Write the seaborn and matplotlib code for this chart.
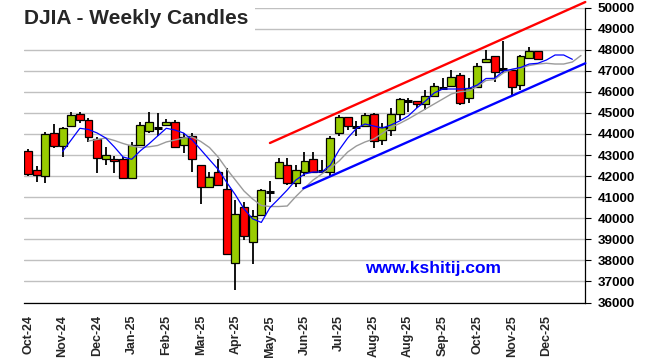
import numpy as np
import pandas as pd
import matplotlib
matplotlib.use("Agg")
import matplotlib.pyplot as plt
import seaborn as sns
from matplotlib.patches import Rectangle

# ---------------- data ----------------
opens = [43203, 42287, 41990, 44028, 43427, 44376, 44930, 44661, 43745, 42796,
         42825, 42825, 41894, 43460, 44139, 44296, 44424, 44552, 43475, 43902,
         42525, 41467, 42193, 41372, 37860, 40517, 38885, 40152, 41230, 41894,
         42511, 41657, 42207, 42796, 42240, 42207, 44030, 44789, 44343, 44376,
         44931, 43712, 44186, 44946, 45577, 45562, 45420, 45814, 46194, 46289,
         46796, 45691, 46241, 47399, 47698, 47067, 47034, 46322, 47589, 47950]
highs = [43284, 42478, 44107, 44471, 44343, 45055, 45055, 44741, 43868, 43394,
         42953, 42921, 43617, 44552, 45026, 44979, 44709, 44661, 44030, 44030,
         42525, 42207, 42796, 42368, 40864, 40783, 40390, 41400, 41766, 42843,
         42843, 42525, 43156, 43156, 42763, 43902, 44898, 44789, 44628, 45007,
         44979, 44504, 45216, 45691, 45705, 45562, 46085, 46431, 46640, 47034,
         46877, 46640, 47352, 47983, 47698, 48410, 47034, 47746, 48140, 47950]
lows = [42003, 41718, 41657, 43318, 42921, 44376, 44534, 43617, 42160, 42525,
        42160, 41846, 41846, 43427, 44030, 43902, 44424, 43394, 43080, 42207,
        40674, 41419, 41576, 38254, 36593, 38966, 37827, 40100, 40783, 41850,
        41576, 41467, 42003, 42131, 42207, 42003, 43902, 44186, 43902, 44376,
        43318, 43475, 43902, 44661, 45055, 45216, 45136, 45767, 46165, 46241,
        45373, 45453, 46241, 47399, 46478, 46877, 45847, 46085, 47589, 47542]
closes = [42098, 42051, 43997, 43427, 44265, 44884, 44661, 43840, 42843, 42986,
          42701, 41923, 43460, 44409, 44552, 44296, 44552, 43394, 43868, 42796,
          41467, 41970, 41576, 38287, 40185, 39155, 40090, 41339, 41230, 42653,
          41657, 42288, 42730, 42207, 42240, 43792, 44817, 44376, 44343, 44898,
          43678, 44314, 44946, 45643, 45577, 45420, 45814, 46289, 46194, 46716,
          45453, 46165, 47224, 47542, 46953, 47067, 46241, 47698, 47935, 47542]

blue_ma_start = 4
blue_ma = [43166, 43716, 44267, 44210, 44044, 43806, 43379, 42905, 42796, 43200,
           43530, 43900, 44267, 44186, 44044, 43711, 43250, 42780, 42320, 41700,
           41110, 40440, 39970, 39800, 40500, 40912, 41339, 41813, 42098, 42193,
           42193, 42525, 43237, 43806, 44257, 44471, 44376, 44281, 44423, 44613,
           44850, 45230, 45562, 45942, 46132, 46132, 46132, 46156, 46322, 46630,
           46640, 46986, 47067, 47152, 47318, 47352, 47508, 47746, 47746, 47542]
gray_ma_start = 7
gray_ma = [43664, 43735, 43806, 43688, 43546, 43427, 43355, 43389, 43450, 43617,
           43711, 43806, 43854, 43640, 43355, 42905, 42335, 41813, 41291, 40912,
           40603, 40555, 40555, 40579, 41030, 41434, 41813, 42098, 42383, 42715,
           43142, 43427, 43617, 43759, 44020, 44305, 44495, 44708, 44945, 45183,
           45420, 45657, 45895, 46004, 46047, 46250, 46535, 46583, 46891, 47057,
           47129, 47247, 47318, 47352, 47318, 47318, 47413, 47722]

trend_upper_x = [28.0, 64.5]
trend_upper_y = [43570, 50260]
trend_lower_x = [31.86, 64.5]
trend_lower_y = [41419, 47352]

month_labels = ["Oct-24", "Nov-24", "Dec-24", "Jan-25", "Feb-25", "Mar-25",
                "Apr-25", "May-25", "Jun-25", "Jul-25", "Aug-25", "Aug-25",
                "Sep-25", "Oct-25", "Nov-25", "Dec-25"]
n_slots = 65

# ---------------- style ----------------
sns.set_style("white")
plt.rcParams["font.family"] = ["Liberation Sans", "DejaVu Sans"]

W, H = 652, 358
fig = plt.figure(figsize=(W / 100, H / 100), dpi=100)
left, right, top, bottom = 23.7, 585.3, 7.5, 302.5
ax = fig.add_axes([left / W, 1 - bottom / H, (right - left) / W, (bottom - top) / H])

df = pd.DataFrame({"o": opens, "h": highs, "l": lows, "c": closes})
df["i"] = np.arange(len(df))
GREEN, RED = "#99CC00", "#FF0000"
bw = 0.92

# wicks
ax.vlines(df["i"], df["l"], df["h"], color="black", lw=1.3, zorder=2)
# bodies
body = df[df["o"] != df["c"]]
ax.bar(body["i"], (body["c"] - body["o"]).abs(), bottom=np.minimum(body["o"], body["c"]),
       width=bw, color=[GREEN if c > o else RED for o, c in zip(body["o"], body["c"])],
       edgecolor="black", linewidth=0.9, zorder=3)
doji = df[df["o"] == df["c"]]
ax.hlines(doji["c"], doji["i"] - bw / 2, doji["i"] + bw / 2, color="black", lw=2.2, zorder=3)

# moving averages
bdf = pd.DataFrame({"x": np.arange(len(blue_ma)) + blue_ma_start, "y": blue_ma})
gdf = pd.DataFrame({"x": np.arange(len(gray_ma)) + gray_ma_start, "y": gray_ma})
sns.lineplot(data=gdf, x="x", y="y", ax=ax, color="#9a9a9a", lw=1.0, zorder=4)
sns.lineplot(data=bdf, x="x", y="y", ax=ax, color="#0000FF", lw=0.9, zorder=5)

# trend channel
sns.lineplot(x=trend_upper_x, y=trend_upper_y, ax=ax, color="#FF0000", lw=1.7, zorder=6)
sns.lineplot(x=trend_lower_x, y=trend_lower_y, ax=ax, color="#0000FF", lw=1.7, zorder=6)
for ln in ax.lines:
    ln.set_clip_on(False)

# axes
ax.set_xlim(-0.5, n_slots - 0.5)
ax.set_ylim(36000, 50000)
ax.set_xlabel("")
ax.set_ylabel("")
ax.yaxis.tick_right()
ax.set_yticks(np.arange(36000, 50001, 1000))
ax.set_yticklabels([str(v) for v in range(36000, 50001, 1000)], fontsize=9.7, fontweight="bold")
ax.tick_params(axis="y", direction="out", length=4, width=0.8, pad=5, colors="black")
ax.yaxis.grid(True, color="#c0c0c0", lw=1.0)
ax.set_axisbelow(True)

ax.set_xticks(np.arange(-0.5, n_slots - 0.5, 4))
ax.set_xticklabels([])
ax.set_xticks(np.arange(0, 4 * len(month_labels), 4), minor=True)
ax.set_xticklabels(month_labels, minor=True, rotation=90, fontsize=9, fontweight="bold")
ax.tick_params(axis="x", which="major", direction="out", length=4, width=0.8)
ax.tick_params(axis="x", which="minor", length=0, pad=9)

for s in ["left", "top"]:
    ax.spines[s].set_visible(False)
for s in ["right", "bottom"]:
    ax.spines[s].set_visible(True)
    ax.spines[s].set_color("black")
    ax.spines[s].set_linewidth(0.9)

# title with white backing
fig.add_artist(Rectangle((0, 1 - 38 / H), 255 / W, 38 / H, transform=fig.transFigure,
                         facecolor="white", edgecolor="none", zorder=2))
fig.text(24 / W, 1 - 18 / H, "DJIA - Weekly Candles", fontsize=15, fontweight="bold",
         ha="left", va="center", zorder=3)
fig.text(433 / W, 1 - 268 / H, "www.kshitij.com", fontsize=12.5, fontweight="bold",
         color="#0000FF", ha="center", va="center", zorder=3)

fig.savefig("out.png", dpi=100)
